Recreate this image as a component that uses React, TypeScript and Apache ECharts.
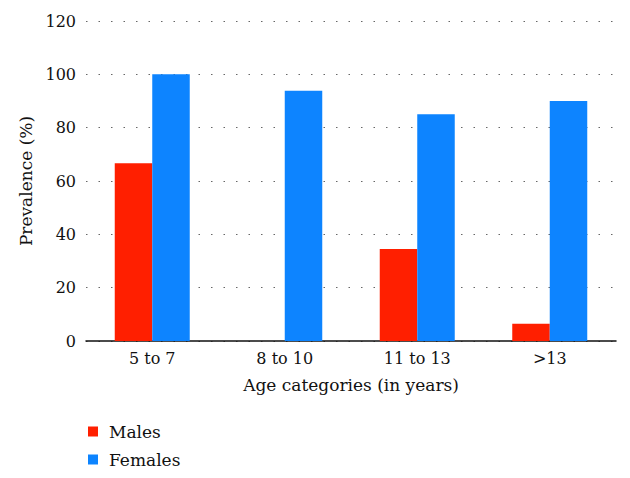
import React, { useEffect, useRef } from "react";
import * as echarts from "echarts";

const categories = ["5 to 7", "8 to 10", "11 to 13", ">13"];
const males = [66.7, null, 34.5, 6.5];
const females = [100, 93.8, 85, 90];
const yTicks = [0, 20, 40, 60, 80, 100, 120];

const FONT = "DejaVu Serif";

export default function App() {
  const ref = useRef<HTMLDivElement>(null);
  useEffect(() => {
    const chart = echarts.init(ref.current!, null, { renderer: "svg" });
    chart.setOption({
      animation: false,
      textStyle: { fontFamily: FONT, color: "#111" },
      grid: { left: 86, right: 14, top: 21, bottom: 137, containLabel: false },
      legend: {
        orient: "vertical",
        left: 83,
        top: 418,
        itemWidth: 10,
        itemHeight: 10,
        itemGap: 11,
        icon: "rect",
        textStyle: { fontFamily: FONT, fontSize: 17, color: "#111", padding: [0, 0, 0, 6] },
        data: ["Males", "Females"],
      },
      xAxis: {
        type: "category",
        data: categories,
        name: "Age categories (in years)",
        nameLocation: "middle",
        nameGap: 35,
        nameTextStyle: { fontFamily: FONT, fontSize: 17, color: "#111" },
        axisLine: { lineStyle: { color: "#111", width: 1.5 } },
        axisTick: { show: false },
        axisLabel: { fontFamily: FONT, fontSize: 16, color: "#111", margin: 9 },
      },
      yAxis: {
        type: "value",
        min: yTicks[0],
        max: yTicks[yTicks.length - 1],
        interval: 20,
        name: "Prevalence (%)",
        nameLocation: "middle",
        nameGap: 52,
        nameRotate: 90,
        nameTextStyle: { fontFamily: FONT, fontSize: 17, color: "#111" },
        axisLine: { show: false },
        axisTick: { show: false },
        axisLabel: { fontFamily: FONT, fontSize: 16, color: "#111", margin: 10 },
        splitLine: { lineStyle: { color: "#666", width: 1, type: [1.5, 11] } },
      },
      series: [
        {
          name: "Males",
          type: "bar",
          data: males,
          barWidth: 37.5,
          barGap: "0%",
          itemStyle: { color: "#ff1f00" },
        },
        {
          name: "Females",
          type: "bar",
          data: females,
          barWidth: 37.5,
          barGap: "0%",
          itemStyle: { color: "#0d84ff" },
        },
      ],
    });
    return () => chart.dispose();
  }, []);
  return <div ref={ref} style={{ width: 630, height: 478, position: "absolute", left: 0, top: 0, background: "#fff" }} />;
}
